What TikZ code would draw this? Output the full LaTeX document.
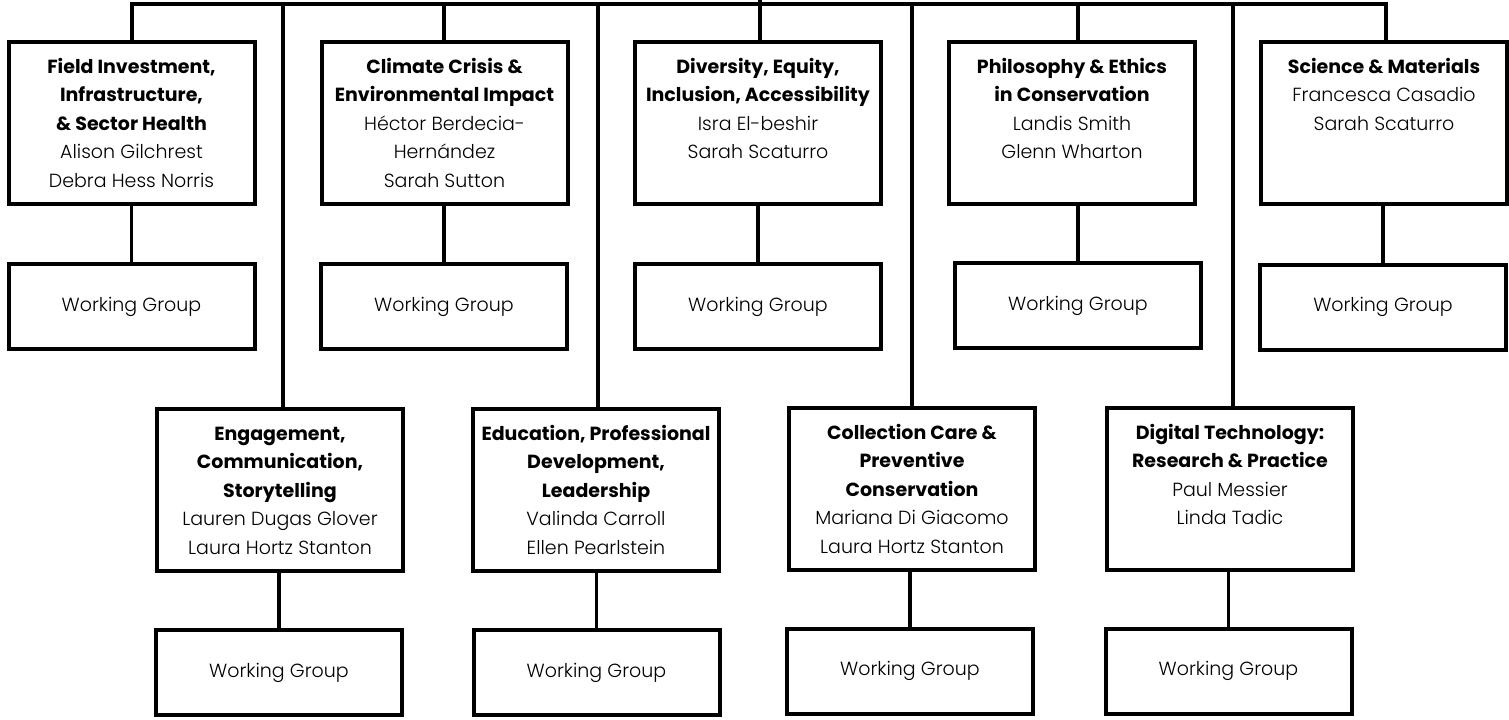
\documentclass[tikz,border=0pt]{standalone}
\usepackage{fontspec}
\setmainfont{Poppins}
\IfFontExistsTF{Poppins Light}{\newfontfamily\namefont{Poppins Light}}{\newfontfamily\namefont{Poppins}}
% heading and name lines inside the boxes
\newcommand{\grouptitle}[1]{\textbf{#1}}
\newcommand{\chairname}[1]{{\namefont #1}}
% top-aligned block of lines filling a title box
\newcommand{\boxtext}[1]{\parbox[c][81pt][t]{123pt}{\centering\fontsize{9.5}{14.25}\selectfont\rule{0pt}{15.5pt}#1}}
\begin{document}
\begin{tikzpicture}[x=0.5pt,y=-0.5pt,
  titlebox/.style={draw=black, line width=2pt, inner sep=0pt,
    minimum width=123pt, minimum height=81pt},
  wgbox/.style={draw=black, line width=2pt, inner sep=0pt,
    minimum width=123pt, minimum height=42.5pt,
    font=\namefont\fontsize{9.5}{14.25}\selectfont},
  conn/.style={draw=black, line width=1.65pt, line join=miter}]

\fill[white] (0,0) rectangle (1509,719);
\useasboundingbox (0,0) rectangle (1509,719);

% ---- upper row of focus areas
\node[titlebox] (t1) at (131.5,123) {\boxtext{\grouptitle{Field Investment,}\\ \grouptitle{Infrastructure,}\\ \grouptitle{\& Sector Health}\\ \chairname{Alison Gilchrest}\\ \chairname{Debra Hess Norris}}};
\node[titlebox] (t2) at (444.5,123) {\boxtext{\grouptitle{Climate Crisis \&}\\ \grouptitle{Environmental Impact}\\ \chairname{Héctor Berdecia-}\\ \chairname{Hernández}\\ \chairname{Sarah Sutton}}};
\node[titlebox] (t3) at (758,123) {\boxtext{\grouptitle{Diversity, Equity,}\\ \grouptitle{Inclusion, Accessibility}\\ \chairname{Isra El-beshir}\\ \chairname{Sarah Scaturro}}};
\node[titlebox] (t4) at (1072,123) {\boxtext{\grouptitle{Philosophy \& Ethics}\\ \grouptitle{in Conservation}\\ \chairname{Landis Smith}\\ \chairname{Glenn Wharton}}};
\node[titlebox] (t5) at (1384,123) {\boxtext{\grouptitle{Science \& Materials}\\ \chairname{Francesca Casadio}\\ \chairname{Sarah Scaturro}}};

\node[wgbox] (w1) at (131.5,306.5) {Working Group};
\node[wgbox] (w2) at (444,306.5) {Working Group};
\node[wgbox] (w3) at (758,306.5) {Working Group};
\node[wgbox] (w4) at (1078,305.5) {Working Group};
\node[wgbox] (w5) at (1383,307) {Working Group};

% ---- lower row of focus areas
\node[titlebox] (b1) at (280,490) {\boxtext{\grouptitle{Engagement,}\\ \grouptitle{Communication,}\\ \grouptitle{Storytelling}\\ \chairname{Lauren Dugas Glover}\\ \chairname{Laura Hortz Stanton}}};
\node[titlebox] (b2) at (596,490) {\boxtext{\grouptitle{Education, Professional}\\ \grouptitle{Development,}\\ \grouptitle{Leadership}\\ \chairname{Valinda Carroll}\\ \chairname{Ellen Pearlstein}}};
\node[titlebox] (b3) at (912,489) {\boxtext{\grouptitle{Collection Care \&}\\ \grouptitle{Preventive}\\ \grouptitle{Conservation}\\ \chairname{Mariana Di Giacomo}\\ \chairname{Laura Hortz Stanton}}};
\node[titlebox] (b4) at (1230,489) {\boxtext{\grouptitle{Digital Technology:}\\ \grouptitle{Research \& Practice}\\ \chairname{Paul Messier}\\ \chairname{Linda Tadic}}};

\node[wgbox] (v1) at (279,672.5) {Working Group};
\node[wgbox] (v2) at (596.5,672.5) {Working Group};
\node[wgbox] (v3) at (910,671) {Working Group};
\node[wgbox] (v4) at (1228.5,671) {Working Group};

% ---- distribution bar along the top
\coordinate (barL) at (132,4);
\coordinate (barR) at (1386,4);
\coordinate (root) at (760,-6);
\coordinate (j2) at (444,4);
\coordinate (j4) at (1078,4);
\coordinate (d1) at (283,4);
\coordinate (d2) at (598,4);
\coordinate (d3) at (912,4);
\coordinate (d4) at (1233,4);

\draw[conn] (t1.north -| barL) -- (barL) -- (barR) -- (t5.north -| barR);
\draw[conn] (root) -- (t3.north -| root);
\draw[conn] (j2) -- (t2.north -| j2);
\draw[conn] (j4) -- (t4.north -| j4);
\draw[conn] (d1) -- (b1.north -| d1);
\draw[conn] (d2) -- (b2.north -| d2);
\draw[conn] (d3) -- (b3.north -| d3);
\draw[conn] (d4) -- (b4.north -| d4);

% ---- each focus area to its working group
\draw[conn] (w1.north |- t1.south) -- (w1.north);
\draw[conn] (w2.north |- t2.south) -- (w2.north);
\draw[conn] (w3.north |- t3.south) -- (w3.north);
\draw[conn] (w4.north |- t4.south) -- (w4.north);
\draw[conn] (w5.north |- t5.south) -- (w5.north);
\draw[conn] (v1.north |- b1.south) -- (v1.north);
\draw[conn] (v2.north |- b2.south) -- (v2.north);
\draw[conn] (v3.north |- b3.south) -- (v3.north);
\draw[conn] (v4.north |- b4.south) -- (v4.north);
\end{tikzpicture}
\end{document}
